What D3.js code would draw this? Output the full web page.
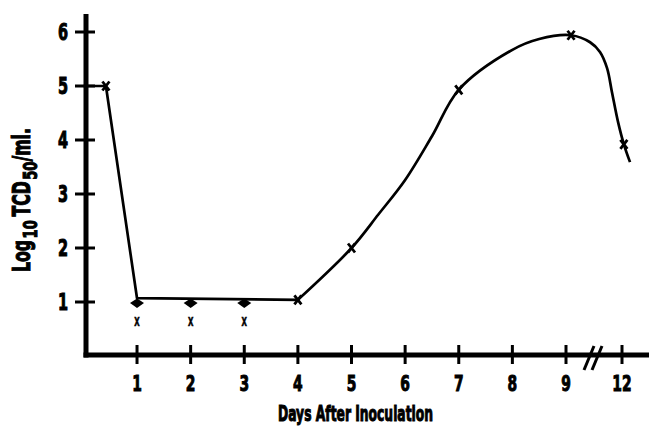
<!DOCTYPE html>
<html>
<head>
<meta charset="utf-8">
<script src="https://cdn.jsdelivr.net/npm/d3@7"></script>
<style>
	body { margin: 0; background: #fff; }
	text { font-family: "DejaVu Sans Condensed", "DejaVu Sans", sans-serif; font-weight: bold; fill: #000; stroke: #000; }
</style>
</head>
<body>
<script>
"use strict";

// axis ticks
const xTicks = [1, 2, 3, 4, 5, 6, 7, 8, 9, 12];
const yTicks = [1, 2, 3, 4, 5, 6];

// the measured titre line (days, log10 TCD50/ml)
const lineStart = [[0, 5], [0.42, 5], [1, 1.07], [4, 1.04]];
// smooth part
const curveDays = [4, 5, 5.5, 6, 6.5, 7, 8, 8.5, 9.27, 10.29, 10.82, 11.2, 11.46, 11.79, 12.1, 12.43];
const curveTitre = [1.04, 2.0, 2.62, 3.26, 4.07, 4.93, 5.67, 5.87, 5.94, 5.81, 5.63, 5.33, 4.89, 4.33, 3.92, 3.59];
// points marked with an x on the line
const markDays = [0.42, 4, 5, 7, 9.27, 12.1];
const markTitre = [5, 1.04, 2.0, 4.93, 5.94, 3.92];
// values below detection at days 1-3
const lowDays = [1, 2, 3];
const diamondTitre = [0.98, 0.98, 0.98];
const crossTitre = [0.65, 0.65, 0.65];

const width = 649, height = 428;
const svg = d3.select("body").append("svg").attr("width", width).attr("height", height);

// days 9 -> 12 are squeezed after the axis break
const x = d3.scaleLinear().domain([0, 9, 12]).range([83.4, 566, 622]);
const y = d3.scaleLinear().domain([0, 6]).range([356, 32]);

function squeeze(sel, tx, ty, sx, rot) {
	sel.attr("x", 0).attr("y", 0)
		.attr("transform", `translate(${tx},${ty})` + (rot ? ` rotate(${rot})` : "") + ` scale(${sx},1)`);
}

// axes
svg.append("line").attr("x1", 86).attr("x2", 86).attr("y1", 14).attr("y2", 357.5)
	.attr("stroke", "#000").attr("stroke-width", 5);
svg.append("line").attr("x1", 83.5).attr("x2", width).attr("y1", 355).attr("y2", 355)
	.attr("stroke", "#000").attr("stroke-width", 5);

yTicks.forEach(v => {
	svg.append("line").attr("x1", 75).attr("x2", 95).attr("y1", y(v)).attr("y2", y(v))
		.attr("stroke", "#000").attr("stroke-width", 3);
	let t = svg.append("text").attr("font-size", 23).attr("stroke-width", 1).attr("text-anchor", "end").text(v);
	squeeze(t, 68, y(v) + 8, 0.7);
});

xTicks.forEach(v => {
	svg.append("line").attr("x1", x(v)).attr("x2", x(v)).attr("y1", 345).attr("y2", 364)
		.attr("stroke", "#000").attr("stroke-width", 3);
	let t = svg.append("text").attr("font-size", 22).attr("stroke-width", 1).attr("text-anchor", "middle").text(v);
	squeeze(t, x(v), 391, 0.7);
});

// axis break
[0, 8].forEach(d => {
	svg.append("line").attr("x1", 584 + d).attr("y1", 370).attr("x2", 594 + d).attr("y2", 346)
		.attr("stroke", "#000").attr("stroke-width", 3);
});

// labels
svg.append("text").attr("x", 355.5).attr("y", 421).attr("font-size", 21).attr("stroke-width", 1)
	.attr("text-anchor", "middle").attr("textLength", 155).attr("lengthAdjust", "spacingAndGlyphs")
	.text("Days After Inoculation");

let yl = svg.append("text").attr("font-size", 24).attr("stroke-width", 1).attr("text-anchor", "start");
yl.append("tspan").text("Log");
yl.append("tspan").attr("font-size", 20).attr("dx", 2).attr("dy", 7).text("10");
yl.append("tspan").attr("dx", 5).attr("dy", -7).text("TCD");
yl.append("tspan").attr("font-size", 20).attr("dx", 2).attr("dy", 7).text("50");
yl.append("tspan").attr("dy", -7).text("/ml.");
let yb = yl.node().getBBox();
// bbox comes out a little short, hence the 0.9
squeeze(yl, 30, 272, 0.9 * 160 / yb.width, -90);

// data line
const line = d3.line().x(d => x(d[0])).y(d => y(d[1]));
svg.append("path").attr("d", line(lineStart))
	.attr("fill", "none").attr("stroke", "#000").attr("stroke-width", 2.7).attr("stroke-linejoin", "round");
svg.append("path").attr("d", line.curve(d3.curveCatmullRom.alpha(0.5))(curveDays.map((d, i) => [d, curveTitre[i]])))
	.attr("fill", "none").attr("stroke", "#000").attr("stroke-width", 2.7);

function cross(cx, cy, w, h) {
	svg.append("path").attr("d", `M${cx - w},${cy - h}L${cx + w},${cy + h}M${cx + w},${cy - h}L${cx - w},${cy + h}`)
		.attr("stroke", "#000").attr("stroke-width", 2.8).attr("fill", "none");
}

markDays.forEach((d, i) => cross(x(d), y(markTitre[i]), 3.5, 4.5));

lowDays.forEach((d, i) => {
	const cx = x(d), cy = y(diamondTitre[i]);
	svg.append("path").attr("d", `M${cx - 7},${cy}L${cx},${cy - 4.5}L${cx + 7},${cy}L${cx},${cy + 5}Z`)
		.attr("fill", "#000");
	let t = svg.append("text").attr("font-size", 13).attr("stroke-width", 0.6).attr("text-anchor", "middle").text("X");
	squeeze(t, cx, y(crossTitre[i]) + 5, 0.6);
});
</script>
</body>
</html>
